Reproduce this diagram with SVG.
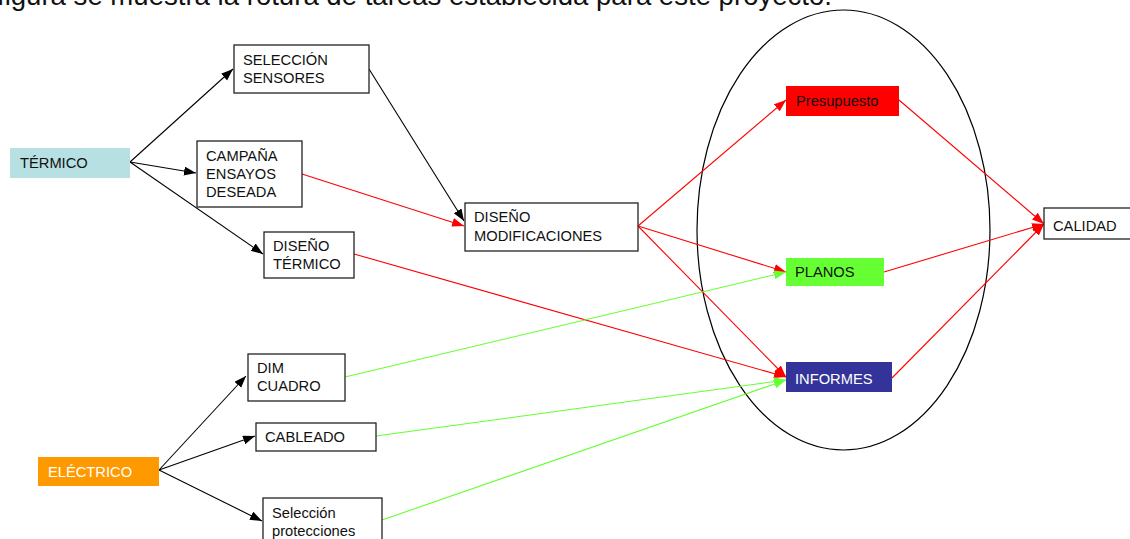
<svg xmlns="http://www.w3.org/2000/svg" width="1130" height="539" viewBox="0 0 1130 539">
<style>
text{font-family:"Liberation Sans",Arial,sans-serif;font-size:14.7px;fill:#111}
.box{fill:#fff;stroke:#222;stroke-width:1.3}
.k{stroke:#000;stroke-width:1.1;fill:none}
.r{stroke:#ff0000;stroke-width:1.1;fill:none}
.g{stroke:#66ff33;stroke-width:1.1;fill:none}
.w{fill:#fff}
</style>
<defs>
<marker id="ak" markerUnits="userSpaceOnUse" markerWidth="13" markerHeight="10" refX="12" refY="4.5" orient="auto"><path d="M0,0 L12,4.5 L0,9 z" fill="#000"/></marker>
<marker id="ar" markerUnits="userSpaceOnUse" markerWidth="13" markerHeight="10" refX="12" refY="4.5" orient="auto"><path d="M0,0 L12,4.5 L0,9 z" fill="#ff0000"/></marker>
<marker id="ag" markerUnits="userSpaceOnUse" markerWidth="13" markerHeight="10" refX="12" refY="4.5" orient="auto"><path d="M0,0 L12,4.5 L0,9 z" fill="#66ff33"/></marker>
</defs>
<rect width="1130" height="539" fill="#fff"/>
<text x="-3" y="5" style="font-size:27px" textLength="835" lengthAdjust="spacingAndGlyphs">figura se muestra la rotura de tareas establecida para este proyecto.</text>
<ellipse cx="843.5" cy="230" rx="146.5" ry="220" fill="none" stroke="#000" stroke-width="1.2"/>
<g id="connectors">
<path class="k" d="M130,162 L233,69" marker-end="url(#ak)"/>
<path class="k" d="M130,162 L196,173" marker-end="url(#ak)"/>
<path class="k" d="M130,162 L263,254" marker-end="url(#ak)"/>
<path class="k" d="M369,69 L464,221" marker-end="url(#ak)"/>
<path class="k" d="M159,470 L246,376" marker-end="url(#ak)"/>
<path class="k" d="M159,470 L255,436" marker-end="url(#ak)"/>
<path class="k" d="M159,470 L262,521" marker-end="url(#ak)"/>
<path class="r" d="M302,174 L464,226" marker-end="url(#ar)"/>
<path class="r" d="M354,254 L786,377" marker-end="url(#ar)"/>
<path class="r" d="M638,226 L786,100" marker-end="url(#ar)"/>
<path class="r" d="M638,226 L786,272" marker-end="url(#ar)"/>
<path class="r" d="M638,226 L786,377" marker-end="url(#ar)"/>
<path class="r" d="M899,100 L1044,224" marker-end="url(#ar)"/>
<path class="r" d="M884,272 L1044,224" marker-end="url(#ar)"/>
<path class="r" d="M892,378 L1044,224" marker-end="url(#ar)"/>
<path class="g" d="M345,377 L786,272" marker-end="url(#ag)"/>
<path class="g" d="M376,436 L786,380" marker-end="url(#ag)"/>
<path class="g" d="M382,520 L786,380" marker-end="url(#ag)"/>
</g>
<g id="termico"><rect x="10" y="148" width="120" height="30" fill="#b7e0e3"/><text x="20" y="168">TÉRMICO</text></g>
<g id="seleccion-sensores"><rect class="box" x="234" y="45" width="135" height="48"/><text x="243" y="65">SELECCIÓN</text><text x="243" y="83">SENSORES</text></g>
<g id="campana"><rect class="box" x="197" y="141" width="105" height="66"/><text x="206" y="161">CAMPAÑA</text><text x="206" y="179">ENSAYOS</text><text x="206" y="197">DESEADA</text></g>
<g id="diseno-termico"><rect class="box" x="264" y="232" width="90" height="46"/><text x="273" y="251">DISEÑO</text><text x="273" y="269">TÉRMICO</text></g>
<g id="diseno-mod"><rect class="box" x="465" y="203" width="173" height="48"/><text x="474" y="222">DISEÑO</text><text x="474" y="241">MODIFICACIONES</text></g>
<g id="presupuesto"><rect x="786" y="86" width="113" height="30" fill="#ff0000"/><text x="796" y="106">Presupuesto</text></g>
<g id="planos"><rect x="786" y="258" width="98" height="28" fill="#66ff33"/><text x="795" y="277">PLANOS</text></g>
<g id="informes"><rect x="786" y="362" width="106" height="30" fill="#333399"/><text class="w" x="795" y="384">INFORMES</text></g>
<g id="calidad"><rect class="box" x="1044" y="208" width="92" height="31"/><text x="1053" y="231">CALIDAD</text></g>
<g id="electrico"><rect x="38" y="457" width="121" height="29" fill="#ff9900"/><text class="w" x="48" y="477">ELÉCTRICO</text></g>
<g id="dim-cuadro"><rect class="box" x="248" y="354" width="97" height="47"/><text x="257" y="373">DIM</text><text x="257" y="391">CUADRO</text></g>
<g id="cableado"><rect class="box" x="256" y="423" width="120" height="28"/><text x="265" y="442">CABLEADO</text></g>
<g id="seleccion-protecciones"><rect class="box" x="263" y="498" width="119" height="50"/><text x="272" y="518">Selección</text><text x="272" y="536">protecciones</text></g>
</svg>
